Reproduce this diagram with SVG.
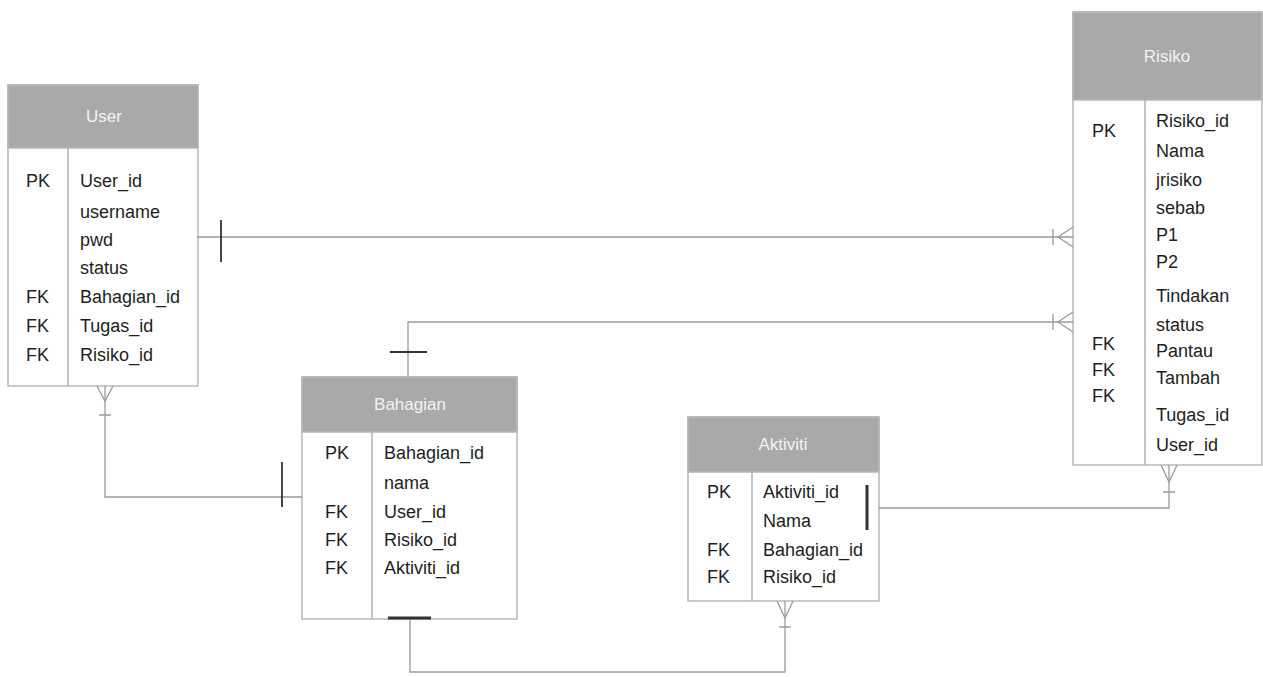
<svg xmlns="http://www.w3.org/2000/svg" width="1263" height="677" viewBox="0 0 1263 677">
<style>
.box{fill:#fff;stroke:#b8b8b8;stroke-width:1.5}
.hdr{fill:#a9a9a9;stroke:#b8b8b8;stroke-width:1.5}
.div{stroke:#b0b0b0;stroke-width:1.5}
.ht{font-family:"Liberation Sans",Arial,sans-serif;font-size:17px;fill:#f4f4f4;text-anchor:middle}
.t{font-family:"Liberation Sans",Arial,sans-serif;font-size:18px;fill:#1e1e1e}
.c{fill:none;stroke:#9a9a9a;stroke-width:1.3}
.tk{fill:none;stroke:#333;stroke-width:1.8}
.tkb{fill:none;stroke:#333;stroke-width:3}
</style>
<rect width="1263" height="677" fill="#fff"/>

<g id="user">
  <rect class="box" x="8" y="85" width="190" height="301"/>
  <rect class="hdr" x="8" y="85" width="190" height="63"/>
  <text class="ht" x="104" y="122">User</text>
  <line class="div" x1="68" y1="148" x2="68" y2="386"/>
  <text class="t" x="26" y="187">PK</text>
  <text class="t" x="80" y="187">User_id</text>
  <text class="t" x="80" y="218">username</text>
  <text class="t" x="80" y="246">pwd</text>
  <text class="t" x="80" y="274">status</text>
  <text class="t" x="26" y="303">FK</text>
  <text class="t" x="80" y="303">Bahagian_id</text>
  <text class="t" x="26" y="332">FK</text>
  <text class="t" x="80" y="332">Tugas_id</text>
  <text class="t" x="26" y="361">FK</text>
  <text class="t" x="80" y="361">Risiko_id</text>
</g>

<g id="risiko">
  <rect class="box" x="1073" y="12" width="189" height="453"/>
  <rect class="hdr" x="1073" y="12" width="189" height="88"/>
  <text class="ht" x="1167" y="62">Risiko</text>
  <line class="div" x1="1145" y1="100" x2="1145" y2="465"/>
  <text class="t" x="1092" y="137">PK</text>
  <text class="t" x="1156" y="127">Risiko_id</text>
  <text class="t" x="1156" y="157">Nama</text>
  <text class="t" x="1156" y="186">jrisiko</text>
  <text class="t" x="1156" y="214">sebab</text>
  <text class="t" x="1156" y="241">P1</text>
  <text class="t" x="1156" y="268">P2</text>
  <text class="t" x="1156" y="302">Tindakan</text>
  <text class="t" x="1156" y="331">status</text>
  <text class="t" x="1092" y="350">FK</text>
  <text class="t" x="1156" y="357">Pantau</text>
  <text class="t" x="1092" y="376">FK</text>
  <text class="t" x="1156" y="384">Tambah</text>
  <text class="t" x="1092" y="402">FK</text>
  <text class="t" x="1156" y="421">Tugas_id</text>
  <text class="t" x="1156" y="451">User_id</text>
</g>

<g id="bahagian">
  <rect class="box" x="302" y="377" width="215" height="242"/>
  <rect class="hdr" x="302" y="377" width="215" height="55"/>
  <text class="ht" x="410" y="410">Bahagian</text>
  <line class="div" x1="372" y1="432" x2="372" y2="619"/>
  <text class="t" x="325" y="459">PK</text>
  <text class="t" x="384" y="459">Bahagian_id</text>
  <text class="t" x="384" y="489">nama</text>
  <text class="t" x="325" y="518">FK</text>
  <text class="t" x="384" y="518">User_id</text>
  <text class="t" x="325" y="546">FK</text>
  <text class="t" x="384" y="546">Risiko_id</text>
  <text class="t" x="325" y="574">FK</text>
  <text class="t" x="384" y="574">Aktiviti_id</text>
</g>

<g id="aktiviti">
  <rect class="box" x="688" y="417" width="191" height="184"/>
  <rect class="hdr" x="688" y="417" width="191" height="55"/>
  <text class="ht" x="783" y="450">Aktiviti</text>
  <line class="div" x1="752" y1="472" x2="752" y2="601"/>
  <text class="t" x="707" y="498">PK</text>
  <text class="t" x="763" y="498">Aktiviti_id</text>
  <text class="t" x="763" y="527">Nama</text>
  <text class="t" x="707" y="556">FK</text>
  <text class="t" x="763" y="556">Bahagian_id</text>
  <text class="t" x="707" y="583">FK</text>
  <text class="t" x="763" y="583">Risiko_id</text>
</g>

<g id="connectors">
  <path class="c" d="M197,237 H1073"/>
  <path class="tk" d="M221,220 V262"/>
  <path class="c" d="M1073,227 L1058,237 L1073,247 M1053,229 V245"/>
  <path class="c" d="M408,377 V322 H1073"/>
  <path class="tk" d="M390,352 H427"/>
  <path class="c" d="M1073,312 L1058,322 L1073,332 M1053,314 V330"/>
  <path class="c" d="M105,386 V497 H302"/>
  <path class="c" d="M97,386 L105,401 L113,386 M99,415 H111"/>
  <path class="tk" d="M282,462 V507"/>
  <path class="c" d="M410,619 V672 H785 V601"/>
  <path class="tkb" d="M388,618 H431"/>
  <path class="c" d="M777,601 L785,618 L793,601 M779,627 H791"/>
  <path class="c" d="M879,508 H1169 V465"/>
  <path class="tkb" d="M867,485 V530"/>
  <path class="c" d="M1161,465 L1169,482 L1177,465 M1163,492 H1175"/>
</g>
</svg>
